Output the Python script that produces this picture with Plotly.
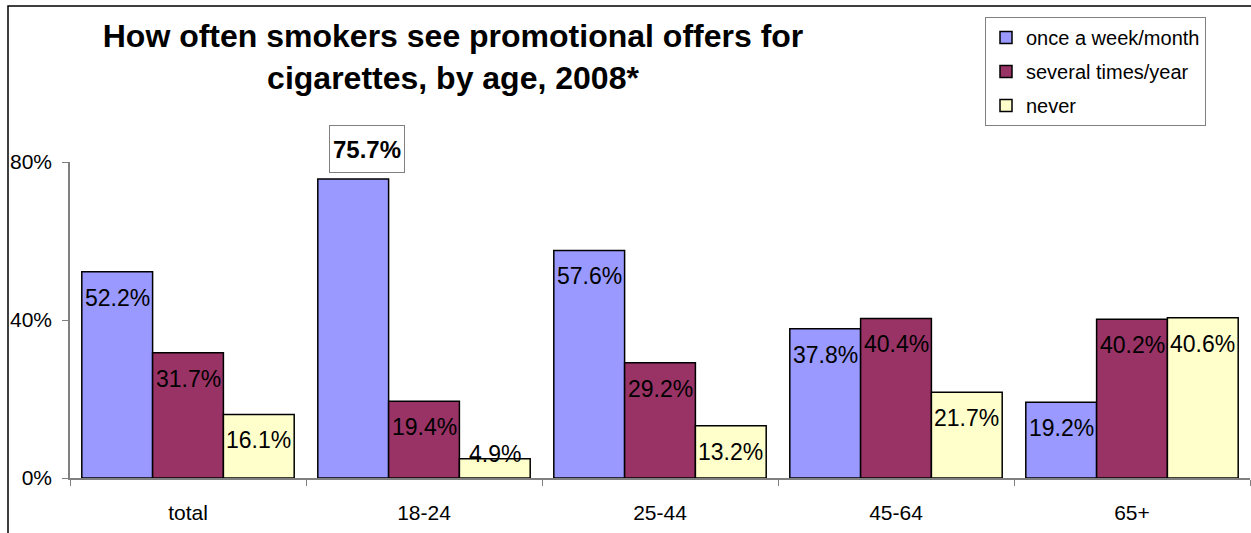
import plotly.graph_objects as go

# Smokers' exposure to cigarette promotional offers, by age group (2008)
age_groups = ["total", "18-24", "25-44", "45-64", "65+"]
series_names = ["once a week/month", "several times/year", "never"]
once_week_month = [52.2, 75.7, 57.6, 37.8, 19.2]
several_times_year = [31.7, 19.4, 29.2, 40.4, 40.2]
never = [16.1, 4.9, 13.2, 21.7, 40.6]
y_tick_vals = [0, 40, 80]
y_tick_text = ["0%", "40%", "80%"]

series_values = [once_week_month, several_times_year, never]
series_colors = ["#9999FF", "#993366", "#FFFFCC"]

W, H = 1251, 533
M_L, M_R, M_T, M_B = 70, 1, 162, 55
plot_w = W - M_L - M_R
plot_h = H - M_T - M_B
y_max = 80
px_per_unit = plot_h / y_max
bargap = 0.1
cat_w = plot_w / len(age_groups)
bar_w = cat_w * (1 - bargap) / len(series_values)

FONT = "Liberation Sans, Arial, sans-serif"

fig = go.Figure()
for i, (name, vals, color) in enumerate(zip(series_names, series_values, series_colors)):
    fig.add_trace(go.Bar(
        x=age_groups, y=vals, name=name,
        marker=dict(color=color, line=dict(color="black", width=1.5)),
        legendgroup=name,
        hoverinfo="x+y+name",
    ))

# value labels: inside the top of each bar, kept clear of the baseline
annotations = []
highlight = max(once_week_month)
for i, vals in enumerate(series_values):
    dx = (i - 1) * bar_w
    for cat, v in zip(age_groups, vals):
        if i == 0 and v == highlight:
            annotations.append(dict(
                x=cat, y=v, xref="x", yref="y",
                text=f"<b>{v:.1f}%</b>", showarrow=False,
                xshift=dx + 14, yshift=30, yanchor="middle",
                font=dict(family=FONT, size=24, color="black"),
                bordercolor="#808080", borderwidth=1, bgcolor="white",
                width=72, height=44, borderpad=1,
            ))
            continue
        y_lab = max(v - 26 / px_per_unit, 24 / px_per_unit)
        annotations.append(dict(
            x=cat, y=y_lab, xref="x", yref="y",
            text=f"{v:.1f}%", showarrow=False,
            xshift=dx, yanchor="middle",
            font=dict(family=FONT, size=23, color="black"),
        ))

fig.update_layout(
    width=W, height=H,
    margin=dict(l=M_L, r=M_R, t=M_T, b=M_B, autoexpand=False),
    paper_bgcolor="white", plot_bgcolor="white",
    barmode="group", bargap=bargap, bargroupgap=0,
    font=dict(family=FONT, color="black"),
    title=dict(
        text="<b>How often smokers see promotional offers for<br>cigarettes, by age, 2008*</b>",
        x=453 / W, xanchor="center", xref="container",
        y=1 - 47 / H, yanchor="middle", yref="container",
        font=dict(family=FONT, size=32, color="black"),
    ),
    legend=dict(
        x=(985 - M_L) / plot_w, y=(H - M_B - 17) / plot_h,
        xanchor="left", yanchor="top",
        bordercolor="#808080", borderwidth=1, bgcolor="white",
        font=dict(family=FONT, size=20, color="black"),
        tracegroupgap=5, traceorder="grouped",
    ),
    xaxis=dict(
        showline=True, linecolor="#808080", linewidth=1.5,
        ticks="outside", tickson="boundaries", ticklen=6, tickcolor="#808080",
        tickfont=dict(family=FONT, size=21, color="black"),
        ticklabelstandoff=15, showgrid=False, fixedrange=True,
    ),
    yaxis=dict(
        range=[0, y_max], tickvals=y_tick_vals, ticktext=y_tick_text,
        showline=True, linecolor="#808080", linewidth=1.5,
        ticks="outside", ticklen=6, tickcolor="#808080",
        tickfont=dict(family=FONT, size=21, color="black"),
        ticklabelstandoff=6, showgrid=False, zeroline=False, fixedrange=True,
    ),
    annotations=annotations,
    shapes=[dict(
        type="rect", xref="paper", yref="paper", layer="below",
        x0=(8 - M_L) / plot_w, x1=1.2,
        y0=-1.0, y1=(H - M_B - 6) / plot_h,
        line=dict(color="black", width=1.5), fillcolor="rgba(0,0,0,0)",
    )],
)

fig.write_html("out.html")
